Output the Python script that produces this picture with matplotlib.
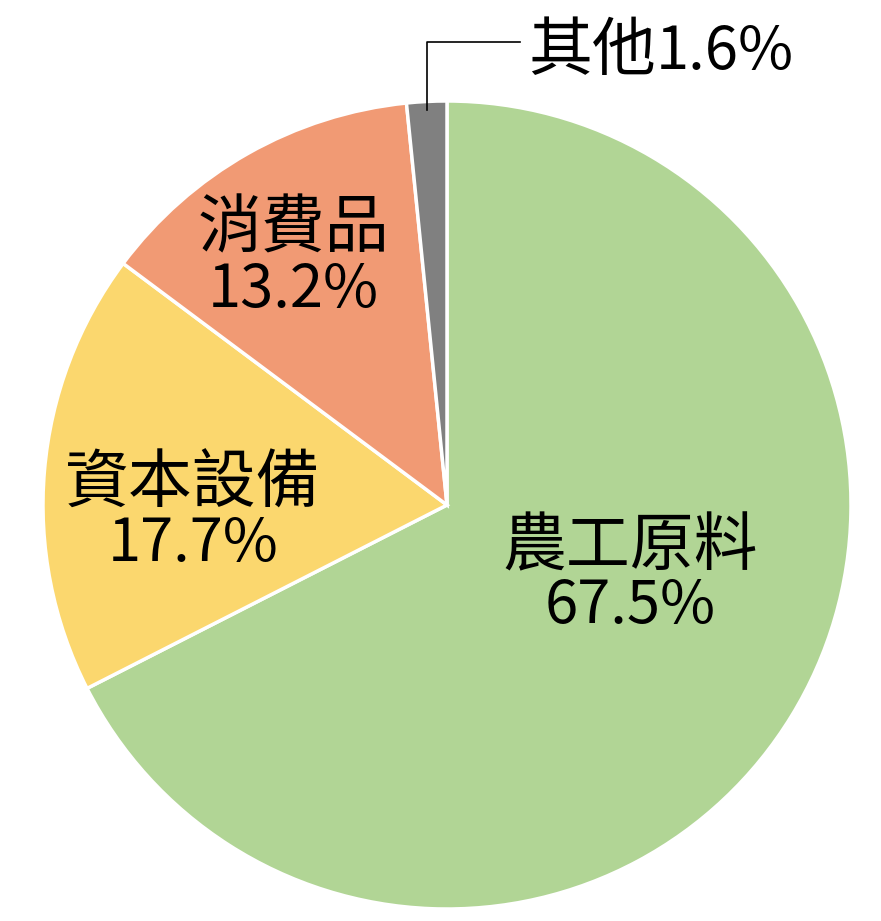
import matplotlib
matplotlib.use('Agg')
import matplotlib.pyplot as plt

plt.rcParams['font.family'] = ['Noto Sans CJK TC', 'DejaVu Sans']

names = ['農工原料', '資本設備', '消費品', '其他']
shares = [67.5, 17.7, 13.2, 1.6]
colors = ['#B1D595', '#FBD76E', '#F19A74', '#808080']

W, H = 881, 921
cx, cy = 447, 505
R = 404

fig = plt.figure(figsize=(W / 100, H / 100), dpi=100)
ax = fig.add_axes([0, 0, 1, 1])
ax.pie(shares, colors=colors, startangle=90, counterclock=False, radius=R,
       wedgeprops=dict(edgecolor='white', linewidth=2.5))
ax.set_xlim(-cx, W - cx)
ax.set_ylim(-(H - cy), cy)
ax.axis('off')

fs = 46
fs2 = 43
# label positions (pixel offsets from the centre): x, name y, percent y
pos = [(183, -42, -102), (-254, 21, -40), (-154, 276, 215)]
for name, val, (x, y1, y2) in zip(names[:3], shares[:3], pos):
    ax.text(x, y1, name, ha='center', va='center', fontsize=fs, fontweight='light')
    ax.text(x, y2, f'{val}%', ha='center', va='center', fontsize=fs2, fontweight='light')

# leader for the small slice
ax.plot([-20, -20, 73], [395, 463, 463], color='black', lw=1.2)
t = ax.text(81, 453, names[3], ha='left', va='center', fontsize=fs, fontweight='light')
ax.annotate(f'{shares[3]}%', xycoords=t, xy=(1, 0.5), va='center', ha='left',
            fontsize=fs2, fontweight='light')

fig.savefig('out.png', dpi=100)
